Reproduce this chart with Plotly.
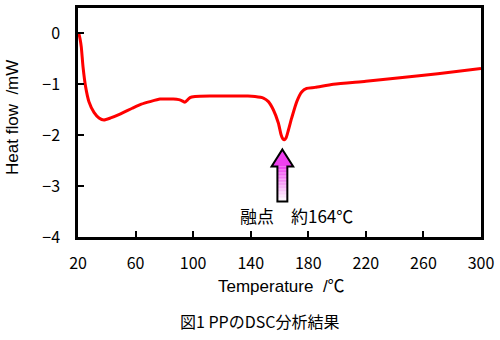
import plotly.graph_objects as go

# Data
temperature = [20, 20.7, 21.5, 22.3, 23.5, 25.3, 27.6, 31.1, 34.6, 38, 42.7, 49.6, 57.7,
               64, 70, 77, 82, 86.2, 90, 92, 94.4, 96, 97.8, 101.3, 111.7, 125, 138,
               143, 148.8, 152.3, 155.7, 159.2, 161.1, 162.3, 163.4, 164.6, 165.7,
               168.5, 172, 175.4, 178.9, 184.7, 197.4, 220, 243.7, 270, 300]
heat_flow = [0.0, -0.02, -0.12, -0.27, -0.66, -1.05, -1.34, -1.55, -1.66, -1.70, -1.66,
             -1.58, -1.47, -1.39, -1.34, -1.29, -1.29, -1.29, -1.30, -1.32, -1.35, -1.31,
             -1.26, -1.24, -1.23, -1.23, -1.23, -1.24, -1.27, -1.34, -1.50, -1.76,
             -1.99, -2.07, -2.09, -2.05, -1.95, -1.66, -1.34, -1.15, -1.08, -1.06,
             -1.00, -0.94, -0.87, -0.79, -0.69]

x_ticks = [20, 60, 100, 140, 180, 220, 260, 300]
y_ticks = [0, -1, -2, -3, -4]
y_ticktext = ["0", "\u22121", "\u22122", "\u22123", "\u22124"]

melt_label = "融点\u3000約164℃"
x_title = "Temperature  /℃"
y_title = "Heat flow  /mW"
caption = "図1 PPのDSC分析結果"
melt_T = 162

CJK = "Noto Sans CJK JP"
LATIN = "Liberation Sans, Arial, Noto Sans CJK JP"

fig = go.Figure()
fig.add_trace(go.Scatter(x=temperature, y=heat_flow, mode="lines",
                         line=dict(color="#ff0000", width=3, shape="spline", smoothing=0.6),
                         hoverinfo="skip", showlegend=False))

# Block arrow with magenta -> white gradient
shapes = []
tip_y, head_base, tail_y = -2.28, -2.615, -3.30
half_head, half_shaft = 7.5, 3.45
n = 24
top = (238, 64, 238)
bot = (255, 255, 255)
for i in range(n):
    y0 = head_base + (tail_y - head_base) * i / n
    y1 = head_base + (tail_y - head_base) * (i + 1) / n
    f = (i + 0.5) / n
    c = tuple(int(top[k] + (bot[k] - top[k]) * f) for k in range(3))
    shapes.append(dict(type="rect", xref="x", yref="y", x0=melt_T - half_shaft, x1=melt_T + half_shaft,
                       y0=y0, y1=y1, fillcolor="rgb(%d,%d,%d)" % c, line=dict(width=0), layer="above"))
shapes.append(dict(type="path", xref="x", yref="y",
                   path="M %f %f L %f %f L %f %f Z" % (melt_T, tip_y, melt_T - half_head, head_base,
                                                     melt_T + half_head, head_base),
                   fillcolor="rgb(238,64,238)", line=dict(width=0), layer="above"))
outline = ("M %f %f L %f %f L %f %f L %f %f L %f %f L %f %f L %f %f Z" % (
    melt_T, tip_y,
    melt_T + half_head, head_base,
    melt_T + half_shaft, head_base,
    melt_T + half_shaft, tail_y,
    melt_T - half_shaft, tail_y,
    melt_T - half_shaft, head_base,
    melt_T - half_head, head_base))
shapes.append(dict(type="path", xref="x", yref="y", path=outline,
                   line=dict(color="black", width=2), fillcolor="rgba(0,0,0,0)", layer="above"))

annotations = [
    dict(text=melt_label, x=172, y=-3.57, xref="x", yref="y", showarrow=False,
         font=dict(family=CJK, size=17, color="black"), xanchor="center", yanchor="middle"),
    dict(text=x_title, x=0.505, y=-0.2155, xref="paper", yref="paper", showarrow=False,
         font=dict(family=LATIN, size=17, color="black"), xanchor="center", yanchor="middle"),
    dict(text=y_title, x=-0.164, y=0.524, xref="paper", yref="paper", showarrow=False, textangle=-90,
         font=dict(family=LATIN, size=17, color="black"), xanchor="center", yanchor="middle"),
    dict(text=caption, x=0.4516, y=-0.3664, xref="paper", yref="paper", showarrow=False,
         font=dict(family=CJK, size=16, color="black"), xanchor="center", yanchor="middle"),
]

fig.update_layout(
    width=500, height=340,
    margin=dict(l=78, r=19, t=5, b=103),
    paper_bgcolor="white", plot_bgcolor="white",
    shapes=shapes, annotations=annotations,
    font=dict(family=CJK, size=16, color="black"),
)
fig.update_xaxes(range=[20, 300], tickvals=x_ticks, ticks="inside", ticklen=6, tickwidth=2,
                 tickcolor="black", showline=True, linecolor="black", linewidth=2.5, mirror=True,
                 showgrid=False, zeroline=False, ticklabelstandoff=10,
                 tickfont=dict(family=CJK, size=16))
fig.update_yaxes(range=[-4, 0.5], tickvals=y_ticks, ticktext=y_ticktext, ticks="inside", ticklen=6,
                 tickwidth=2, tickcolor="black", showline=True, linecolor="black", linewidth=2.5,
                 mirror=True, showgrid=False, zeroline=False, ticklabelstandoff=12,
                 tickfont=dict(family=CJK, size=16))

fig.write_html("out.html")
